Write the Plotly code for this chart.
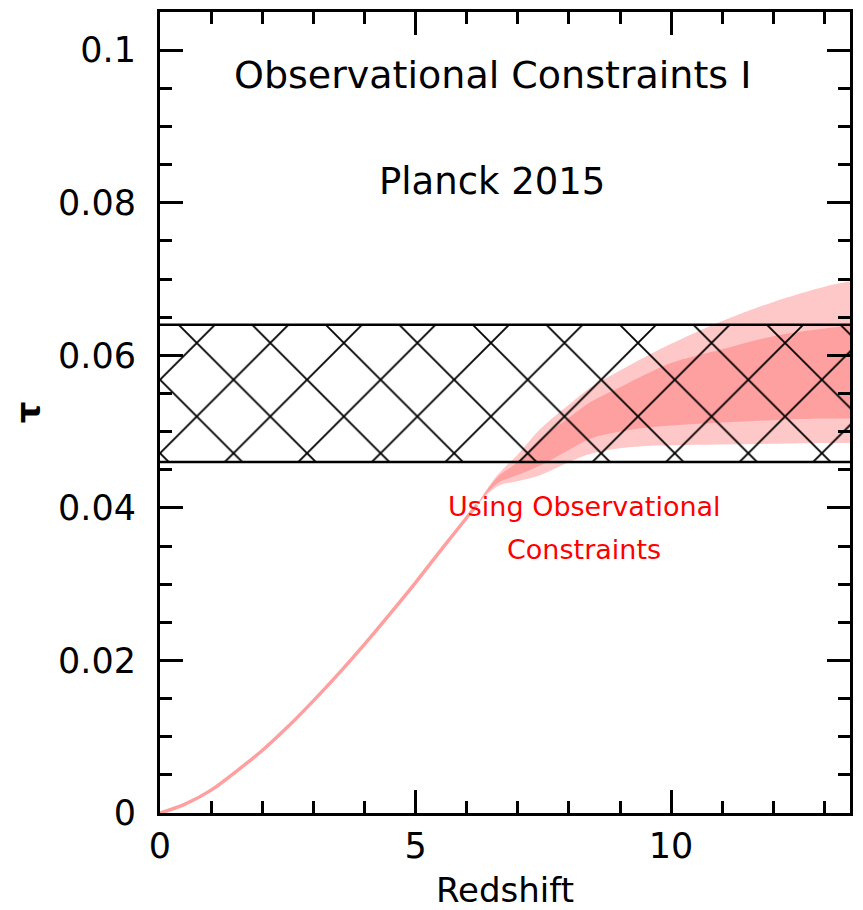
# Optical depth to reionization vs redshift, with the Planck 2015 band.
import plotly.graph_objects as go

# Planck 2015: tau = 0.055 +/- 0.009
PLANCK_TAU = 0.055
PLANCK_ERR = 0.009
Z_RANGE = [0, 13.5]

# single curve at low redshift (bands have zero width here)
z_low = [0, 0.5, 1, 1.5, 2, 2.5, 3, 3.5, 4, 4.5, 5, 5.5, 6, 6.2]
tau_low = [0, 0.0012, 0.003, 0.0055, 0.0082, 0.0113, 0.0147, 0.0183,
           0.0221, 0.0261, 0.0302, 0.0345, 0.0387, 0.0404]

# high redshift: 95% (outer) and 68% (inner) bands
z_band = [6.2, 6.6, 7.0, 7.45, 8.0, 8.43, 9.0, 9.5, 10, 11, 12, 13, 13.5]
outer_hi = [0.0404, 0.0443, 0.0470, 0.0504, 0.0535, 0.0558, 0.0580, 0.0598,
            0.0615, 0.0645, 0.0670, 0.0690, 0.0697]
inner_hi = [0.0404, 0.0440, 0.0460, 0.0491, 0.0518, 0.0539, 0.0558, 0.0575,
            0.0590, 0.0608, 0.0625, 0.0635, 0.0639]
inner_lo = [0.0404, 0.0432, 0.0443, 0.0456, 0.0476, 0.0491, 0.0500, 0.0505,
            0.0508, 0.0512, 0.0515, 0.0517, 0.0517]
outer_lo = [0.0404, 0.0428, 0.0435, 0.0443, 0.0460, 0.0471, 0.0478, 0.0481,
            0.0482, 0.0483, 0.0484, 0.0485, 0.0485]

LIGHT = '#FFC8C8'
DARK = '#FFA0A0'
FONT = 'DejaVu Sans'

fig = go.Figure()

# outer band
fig.add_trace(go.Scatter(x=z_band, y=outer_lo, mode='lines',
                         line=dict(width=0, color=LIGHT, shape='spline'),
                         showlegend=False))
fig.add_trace(go.Scatter(x=z_band, y=outer_hi, mode='lines', fill='tonexty',
                         fillcolor=LIGHT, line=dict(width=0, color=LIGHT, shape='spline'),
                         showlegend=False))
# inner band
fig.add_trace(go.Scatter(x=z_band, y=inner_lo, mode='lines',
                         line=dict(width=0, color=DARK, shape='spline'),
                         showlegend=False))
fig.add_trace(go.Scatter(x=z_band, y=inner_hi, mode='lines', fill='tonexty',
                         fillcolor=DARK, line=dict(width=0, color=DARK, shape='spline'),
                         showlegend=False))
# low-z curve
fig.add_trace(go.Scatter(x=z_low, y=tau_low, mode='lines',
                         line=dict(width=3.5, color=DARK, shape='spline'),
                         showlegend=False))

# Planck hatched band
lo = PLANCK_TAU - PLANCK_ERR
hi = PLANCK_TAU + PLANCK_ERR
fig.add_trace(go.Scatter(x=Z_RANGE, y=[lo, lo], mode='lines',
                         line=dict(width=2.5, color='black'), showlegend=False))
fig.add_trace(go.Scatter(x=Z_RANGE, y=[hi, hi], mode='lines', fill='tonexty',
                         fillcolor='rgba(0,0,0,0)',
                         fillpattern=dict(shape='x', fgcolor='black', fgopacity=1,
                                          bgcolor='rgba(0,0,0,0)', size=52,
                                          solidity=0.07, fillmode='overlay'),
                         line=dict(width=2.5, color='black'), showlegend=False))

# text
fig.add_annotation(x=6.5, y=0.0968, text='Observational Constraints I',
                   showarrow=False, font=dict(size=38, color='black', family=FONT))
fig.add_annotation(x=6.5, y=0.0828, text='Planck 2015',
                   showarrow=False, font=dict(size=37, color='black', family=FONT))
fig.add_annotation(x=8.3, y=0.0402, text='Using Observational',
                   showarrow=False, font=dict(size=27, color='red', family=FONT))
fig.add_annotation(x=8.3, y=0.0346, text='Constraints',
                   showarrow=False, font=dict(size=27, color='red', family=FONT))

axis_style = dict(showline=True, linewidth=3, linecolor='black', mirror='ticks',
                  ticks='inside', ticklen=23, tickwidth=3, tickcolor='black',
                  showgrid=False, zeroline=False,
                  tickfont=dict(size=35, color='black', family=FONT))

fig.update_xaxes(range=Z_RANGE, tickvals=[0, 5, 10],
                 minor=dict(dtick=1, ticks='inside', ticklen=12, tickwidth=3,
                            tickcolor='black', showgrid=False),
                 title=dict(text='Redshift', font=dict(size=34, color='black', family=FONT),
                            standoff=14),
                 ticklabelstandoff=0, **axis_style)
fig.update_yaxes(range=[0, 0.105], tickvals=[0, 0.02, 0.04, 0.06, 0.08, 0.1],
                 ticktext=['0', '0.02', '0.04', '0.06', '0.08', '0.1'],
                 minor=dict(dtick=0.005, ticks='inside', ticklen=12, tickwidth=3,
                            tickcolor='black', showgrid=False),
                 title=dict(text='<b>τ</b>', font=dict(size=34, color='black', family=FONT),
                            standoff=20),
                 ticklabelstandoff=14, **axis_style)

# page adds an 8px body margin; keep the plot box where the reference has it
fig.update_layout(width=855, height=902,
                  margin=dict(l=152, r=13, t=1, b=97),
                  plot_bgcolor='white', paper_bgcolor='white',
                  showlegend=False)

fig.write_html('out.html')
